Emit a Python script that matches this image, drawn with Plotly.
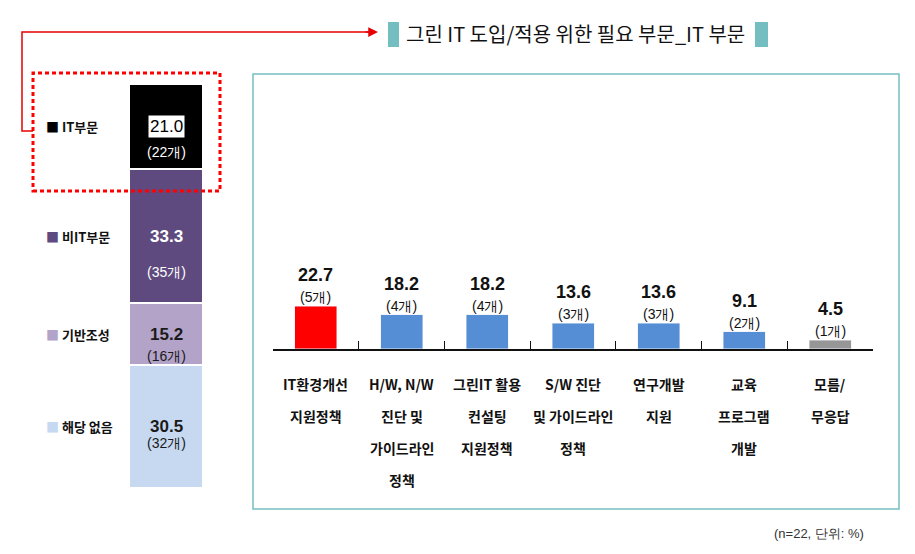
import plotly.graph_objects as go

W, H = 915, 554

# ---- data ----
seg_names = ["IT부문", "비IT부문", "기반조성", "해당 없음"]
seg_values = [21.0, 33.3, 15.2, 30.5]
seg_counts = ["(22개)", "(35개)", "(16개)", "(32개)"]

categories = ["IT환경개선<br>지원정책", "H/W, N/W<br>진단 및<br>가이드라인<br>정책",
              "그린IT 활용<br>컨설팅<br>지원정책", "S/W 진단<br>및 가이드라인<br>정책",
              "연구개발<br>지원", "교육<br>프로그램<br>개발", "모름/<br>무응답"]
values = [22.7, 18.2, 18.2, 13.6, 13.6, 9.1, 4.5]
counts = ["(5개)", "(4개)", "(4개)", "(3개)", "(3개)", "(2개)", "(1개)"]

title_text = "그린 IT 도입/적용 위한 필요 부문_IT 부문"
footer_text = "(n=22, 단위: %)"

# ---- styles ----
seg_colors = ["#000000", "#5E4A7E", "#B3A3C8", "#C6D9F1"]
seg_val_colors = ["#000000", "#FFFFFF", "#1A1A1A", "#1A1A1A"]
seg_cnt_colors = ["#FFFFFF", "#FFFFFF", "#1A1A1A", "#1A1A1A"]
seg_cnt_offsets = [26, 36, 22, 17]
bar_colors = ["#FF0000", "#558ED5", "#558ED5", "#558ED5", "#558ED5", "#558ED5", "#969696"]
TEAL = "#74BEC2"
KFONT = "Noto Sans CJK KR"
NFONT = "Liberation Sans Narrow, Liberation Sans, Arial"


def px(x):
    return x / W


def py(y):
    return 1 - y / H


fig = go.Figure()

# left stacked bar
for n, v, c in zip(seg_names, seg_values, seg_colors):
    fig.add_trace(go.Bar(x=["s"], y=[v], name=n, marker=dict(color=c, line=dict(color="white", width=2)),
                         width=1, xaxis="x", yaxis="y", hoverinfo="skip", showlegend=False))

# right bar chart
xcat = [c.replace("<br>", " ") for c in categories]
fig.add_trace(go.Bar(x=xcat, y=values, marker=dict(color=bar_colors), width=0.49,
                     xaxis="x2", yaxis="y2", hoverinfo="skip", showlegend=False))

annotations = []
# stacked labels
cum = 0
for n, v, cnt, vc, cc, off, col in zip(seg_names, seg_values, seg_counts, seg_val_colors,
                                       seg_cnt_colors, seg_cnt_offsets, seg_colors):
    mid = cum + v / 2
    cum += v
    if n == seg_names[0]:
        annotations.append(dict(x="s", y=mid, xref="x", yref="y", text=f"{v:.1f}", showarrow=False,
                                yanchor="middle",
                                font=dict(family=NFONT, size=17, color=vc), bgcolor="white", borderpad=1))
    else:
        annotations.append(dict(x="s", y=mid, xref="x", yref="y", text=f"<b>{v:.1f}</b>", showarrow=False,
                                yanchor="middle", font=dict(family=NFONT, size=17, color=vc)))
    annotations.append(dict(x="s", y=mid, xref="x", yref="y", text=cnt, showarrow=False, yshift=-off,
                            yanchor="middle", font=dict(family=NFONT, size=14, color=cc)))
    annotations.append(dict(x=px(44), y=mid, xref="paper", yref="y", xanchor="left", yanchor="middle",
                            showarrow=False,
                            text=f"<span style='color:{col}'>■</span> <b>{n}</b>",
                            font=dict(family=KFONT, size=13, color="#111111")))

# bar labels
for c, v, cnt in zip(xcat, values, counts):
    annotations.append(dict(x=c, y=v, xref="x2", yref="y2", text=f"<b>{v:.1f}</b>", showarrow=False,
                            yanchor="middle", yshift=31, font=dict(family=NFONT, size=18, color="#111111")))
    annotations.append(dict(x=c, y=v, xref="x2", yref="y2", text=cnt, showarrow=False,
                            yanchor="middle", yshift=9, font=dict(family=NFONT, size=14, color="#111111")))

# category labels (one annotation per line)
for c, lab in zip(xcat, categories):
    for i, line in enumerate(lab.split("<br>")):
        annotations.append(dict(x=c, y=py(384 + 32 * i), xref="x2", yref="paper", text=f"<b>{line}</b>",
                                yanchor="middle", showarrow=False,
                                font=dict(family=KFONT, size=14, color="#111111")))

# title
annotations.append(dict(x=px(404), y=py(34), xref="paper", yref="paper", xanchor="left", yanchor="middle",
                        showarrow=False, text=title_text, font=dict(family=KFONT, size=20, color="#111111")))
# footer
annotations.append(dict(x=px(866), y=py(533), xref="paper", yref="paper", xanchor="right", yanchor="middle",
                        showarrow=False, text=footer_text, font=dict(family=NFONT, size=13, color="#333333")))
# arrow head
annotations.append(dict(x=px(378), y=py(32), xref="paper", yref="paper", ax=-14, ay=0, text="",
                        showarrow=True, arrowhead=2, arrowsize=1.3, arrowwidth=1.5, arrowcolor="#E60000"))

shapes = [
    # red dotted frame
    dict(type="rect", xref="paper", yref="paper", x0=px(33), x1=px(220), y0=py(191), y1=py(73),
         line=dict(color="#FF0000", width=3, dash="4px,3px")),
    # red connector
    dict(type="path", xref="paper", yref="paper",
         path=f"M {px(33)},{py(131)} L {px(22)},{py(131)} L {px(22)},{py(32)} L {px(370)},{py(32)}",
         line=dict(color="#E60000", width=1.5)),
    # teal squares
    dict(type="rect", xref="paper", yref="paper", x0=px(388), x1=px(399), y0=py(47), y1=py(22),
         fillcolor=TEAL, line=dict(width=0)),
    dict(type="rect", xref="paper", yref="paper", x0=px(755), x1=px(768), y0=py(47), y1=py(22),
         fillcolor=TEAL, line=dict(width=0)),
    # right panel border
    dict(type="rect", xref="paper", yref="paper", x0=px(253), x1=px(899), y0=py(509), y1=py(74),
         line=dict(color=TEAL, width=1.5)),
]

base = 349
scale = 1.894
ymax = 40

fig.update_layout(
    width=W, height=H, margin=dict(l=0, r=0, t=0, b=0),
    paper_bgcolor="white", plot_bgcolor="rgba(0,0,0,0)",
    barmode="stack", showlegend=False,
    xaxis=dict(domain=[px(129), px(203)], range=[-0.5, 0.5], visible=False, fixedrange=True),
    yaxis=dict(domain=[py(488), py(84)], range=[100, 0], visible=False, fixedrange=True),
    xaxis2=dict(domain=[px(273), px(873)], anchor="y2", type="category", range=[-0.5, 6.5],
                showticklabels=False, showline=True, linecolor="#111111", linewidth=1.5,
                ticks="inside", tickson="boundaries", ticklen=8, tickcolor="#111111", tickwidth=1.2,
                showgrid=False, fixedrange=True),
    yaxis2=dict(domain=[py(base), py(base - ymax * scale)], anchor="x2", range=[0, ymax], visible=False,
                showgrid=False, zeroline=False, fixedrange=True),
    annotations=annotations, shapes=shapes,
)

fig.write_html("out.html")
